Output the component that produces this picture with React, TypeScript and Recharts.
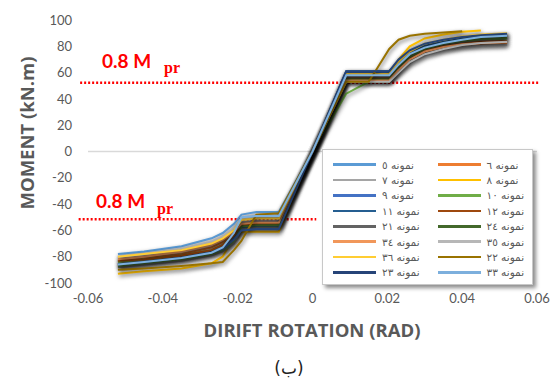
import { LineChart, Line, XAxis, YAxis, ReferenceLine } from 'recharts'

// shared drift grid (rad) for all specimens
const DRIFT = [-0.052, -0.045, -0.035, -0.027, -0.024, -0.021, -0.019, -0.015, -0.009, 0, 0.009, 0.015, 0.017, 0.0205, 0.023, 0.026, 0.03, 0.035, 0.04, 0.045, 0.052]

// moment (kN.m) per specimen
const S5 = [-78, -76, -72, -66, -62, -55, -48, -46, -46, 0, 58, 58, 58, 58, 68, 75, 80, 83, 86, 87.5, 88.5]
const S6 = [-83, -81, -78, -73, -69, -63, -57, -56, -56, 0, 55, 55, 55, 55, 62, 70, 76, 79, 81, 82, 82.5]
const S7 = [-81, -79, -75, -70, -66, -60, -54, -53, -53, 0, 54, 54, 54, 54, 60, 67, 73, 77, 79.5, 80.5, 81]
const S8 = [-93, -91, -89, -85, -80, -65, -61, -61, -61, 0, 57, 57, 57, 57, 70, 80, 86, 89, 91, 92, null]
const S9 = [-86, -84, -81, -77, -74, -67, -55, -54, -54, 0, 60, 60, 60, 60, 68, 75, 80, 83, 85.5, 87, 88]
const S10 = [-84, -82, -79, -75, -71, -64, -57, -56, -56, 0, 44, 53, 53, 53, 63, 72, 78, 82, 84.5, 85.5, 86]
const S11 = [-86, -84, -80, -76, -72, -65, -58, -57, -57, 0, 61, 61, 61, 61, 69, 76, 81, 84, 86.5, 88, 89]
const S12 = [-83, -82, -79, -75, -71, -64, -56, -55, -55, 0, 56, 56, 56, 56, 64, 71, 77, 80, 82, 83.5, 84]
const S21 = [-88, -86, -83, -79, -76, -70, -59, -58, -58, 0, 57, 57, 57, 57, 65, 73, 79, 82, 84.5, 86, 86.5]
const S24 = [-87, -85, -82, -78, -75, -68, -57, -56, -56, 0, 55, 55, 55, 55, 64, 72, 78, 82, 84, 85.5, 86.5]
const S34 = [-82, -80, -76, -71, -67, -61, -55, -54, -54, 0, 54, 54, 54, 54, 62, 70, 76, 79.5, 81.5, 82.5, 83]
const S35 = [-80, -78, -74, -69, -65, -58, -51, -50, -50, 0, 53, 53, 53, 53, 60, 68, 74, 78, 81, 82.5, 83.5]
const S36 = [-80, -78, -75, -70, -66, -60, -52, -51, -51, 0, 59, 59, 59, 59, 68, 76, 82, 85, 87.5, 89, 90]
const S22 = [-90, -89, -87, -85, -84, -75, -68, -48, -47, 0, 53, 53, 62, 78, 85, 88, 89.5, 90.5, 91.5, null, null]
const S23 = [-86, -84, -81, -77, -74, -67, -60, -59, -59, 0, 61, 61, 61, 61, 70, 77, 82, 85, 87, 88.5, 89.5]
const S33 = [-86, -84, -81, -77, -73, -62, -50, -49, -49, 0, 58, 58, 58, 58, 66, 74, 79, 82.5, 85, 87, 88]

const NAMES = ['نمونه ٥', 'نمونه ٦', 'نمونه ٧', 'نمونه ٨', 'نمونه ٩', 'نمونه ١٠', 'نمونه ١١', 'نمونه ١٢',
  'نمونه ٢١', 'نمونه ٢٤', 'نمونه ٣٤', 'نمونه ٣٥', 'نمونه ٣٦', 'نمونه ٢٢', 'نمونه ٢٣', 'نمونه ٣٣']
const VALUES = [S5, S6, S7, S8, S9, S10, S11, S12, S21, S24, S34, S35, S36, S22, S23, S33]
const COLORS = ['#5B9BD5', '#ED7D31', '#A5A5A5', '#FFC000', '#4472C4', '#70AD47', '#255E91', '#9E480E',
  '#636363', '#43682B', '#F1975A', '#B7B7B7', '#FFCD33', '#997300', '#264478', '#7CAFDD']

const X_TICKS = [-0.06, -0.04, -0.02, 0, 0.02, 0.04, 0.06]
const Y_TICKS = [-100, -80, -60, -40, -20, 0, 20, 40, 60, 80, 100]
const MPR_POS = 52.3
const MPR_NEG = -51.6

const series = NAMES.map((name, i) => ({
  name,
  color: COLORS[i],
  data: DRIFT.map((x, j) => ({ x, y: VALUES[i][j] })).filter(p => p.y !== null),
}))

const GRAY = '#595959'

export default function App() {
  return (
    <div style={{ position: 'absolute', left: 0, top: 0, width: 554, height: 381, background: '#fff' }}>
      <style>{`.recharts-line-curve { filter: drop-shadow(1.5px 2px 2px rgba(0,0,0,0.6)); }`}</style>
      <LineChart width={554} height={381} margin={{ top: 20, right: 17, left: 0, bottom: 0 }}>
        <XAxis
          type="number" dataKey="x" domain={[-0.06, 0.06]} ticks={X_TICKS}
          axisLine={false} tickLine={false} tickSize={0} tickMargin={11} height={98}
          tick={{ fill: GRAY, fontSize: 13, fontFamily: 'Lato' }}
          tickFormatter={(v: number) => String(v)}
          allowDataOverflow
        />
        <YAxis
          type="number" domain={[-100, 100]} ticks={Y_TICKS} width={88}
          axisLine={false} tickLine={false} tickSize={0} tickMargin={16}
          tick={{ fill: GRAY, fontSize: 13, fontFamily: 'Lato' }}
        />
        <ReferenceLine y={0} stroke="#d9d9d9" strokeWidth={1.5} />
        <ReferenceLine
          segment={[{ x: -0.0621, y: MPR_POS }, { x: 0.0608, y: MPR_POS }]}
          stroke="#FF0000" strokeWidth={2.5} strokeDasharray="2 2" ifOverflow="visible"
        />
        <ReferenceLine
          segment={[{ x: -0.0625, y: MPR_NEG }, { x: 0.001, y: MPR_NEG }]}
          stroke="#FF0000" strokeWidth={2.5} strokeDasharray="2 2" ifOverflow="visible"
        />
        {series.map(s => (
          <Line
            key={s.name} data={s.data} dataKey="y" name={s.name} type="linear"
            stroke={s.color} strokeWidth={2} dot={false} isAnimationActive={false}
          />
        ))}
      </LineChart>

      <svg width={554} height={381} style={{ position: 'absolute', left: 0, top: 0, pointerEvents: 'none' }}>
        <text x={26} y={133} transform="rotate(-90 26 133)" textAnchor="middle" dominantBaseline="central"
          fill={GRAY} fontSize={18.5} fontWeight="bold" fontFamily="Open Sans">MOMENT (kN.m)</text>
        <text x={312} y={337} textAnchor="middle" fill={GRAY} fontSize={18.5} fontWeight="bold" fontFamily="Open Sans">
          DIRIFT ROTATION (RAD)
        </text>
        <text x={102} y={68} fill="#FF0000" fontSize={19} fontWeight="bold" fontFamily="Lato">0.8 M</text>
        <text x={164} y={73} fill="#FF0000" fontSize={16} fontWeight="bold" fontFamily="Liberation Serif">pr</text>
        <text x={96} y={208} fill="#FF0000" fontSize={19} fontWeight="bold" fontFamily="Lato">0.8 M</text>
        <text x={157} y={214} fill="#FF0000" fontSize={16} fontWeight="bold" fontFamily="Liberation Serif">pr</text>
        <text x={289} y={374} textAnchor="middle" fill="#222" fontSize={17} fontFamily="DejaVu Sans">(ب)</text>
      </svg>

      <div style={{
        position: 'absolute', left: 322, top: 149, width: 211, height: 136, background: '#fff',
        border: '1px solid #c8c8c8', boxShadow: '3px 3px 4px rgba(0,0,0,0.45)', boxSizing: 'border-box',
        display: 'grid', gridTemplateColumns: '1fr 1fr', gridAutoRows: '15.4px', paddingTop: 7,
      }}>
        {series.map(s => (
          <div key={s.name} style={{ display: 'flex', alignItems: 'center', paddingLeft: 10 }}>
            <div style={{ width: 43, height: 2.5, background: s.color, marginRight: 6, flexShrink: 0 }} />
            <span style={{ fontFamily: '"DejaVu Sans"', fontSize: 10.5, color: GRAY, whiteSpace: 'nowrap' }}>{s.name}</span>
          </div>
        ))}
      </div>
    </div>
  )
}
